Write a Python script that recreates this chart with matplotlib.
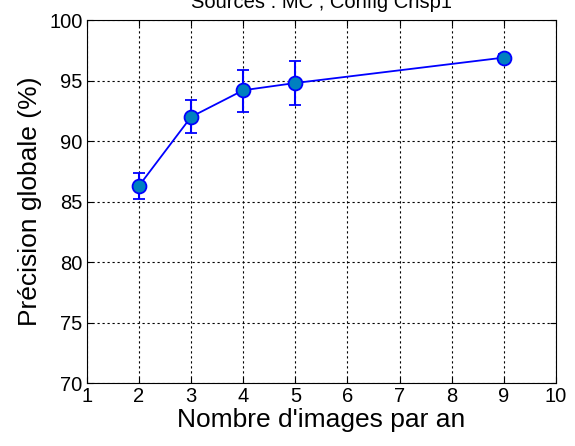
import matplotlib.pyplot as plt

plt.rcParams['font.family'] = ['Liberation Sans', 'DejaVu Sans']

# values
n_images = [2, 3, 4, 5, 9]
precision = [86.3, 92.0, 94.2, 94.8, 96.9]
err_low = [85.2, 90.7, 92.4, 93.0, 96.6]
err_high = [87.4, 93.4, 95.9, 96.6, 97.2]

xticks = list(range(1, 11))
yticks = [70, 75, 80, 85, 90, 95, 100]

yerr = [[p - lo for p, lo in zip(precision, err_low)],
        [hi - p for p, hi in zip(precision, err_high)]]

fig = plt.figure(figsize=(5.75, 4.46), dpi=100)
ax = fig.add_axes([0.151, 0.141, 0.816, 0.814])

ax.errorbar(n_images, precision, yerr=yerr, color='#0000ff', lw=1.3,
            ecolor='#0000ff', elinewidth=1.5, capsize=4, capthick=1.5,
            marker='o', markersize=10, markerfacecolor='#0080c0',
            markeredgecolor='#0000ff', markeredgewidth=1.3, zorder=3)

ax.set_xlim(1, 10)
ax.set_ylim(70, 100)
ax.set_xticks(xticks)
ax.set_yticks(yticks)
ax.tick_params(direction='in', labelsize=14.5, top=True, right=True,
               length=4, pad=3)
ax.grid(True, color='black', linestyle=(0, (2, 2.5)), linewidth=0.8)
for s in ax.spines.values():
    s.set_linewidth(0.8)

ax.set_xlabel("Nombre d'images par an", fontsize=19, labelpad=1)
ax.set_ylabel('Précision globale (%)', fontsize=19, labelpad=5)
ax.set_title('Sources : MC , Config Crisp1', fontsize=14.5, pad=9)

fig.savefig('out.png', dpi=100)
